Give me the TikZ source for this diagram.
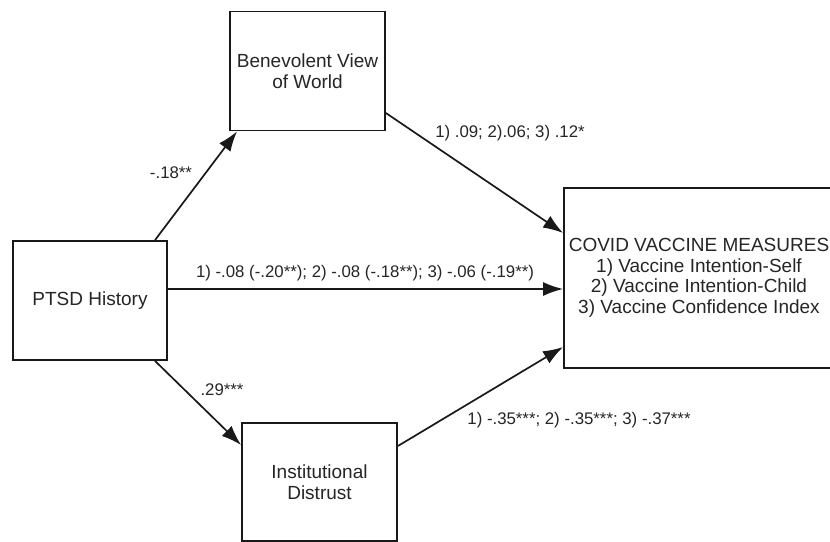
\documentclass[tikz,border=0pt]{standalone}
\usepackage{fontspec}
\setmainfont{Liberation Sans}
\usetikzlibrary{arrows.meta,calc}
\begin{document}
\begin{tikzpicture}[x=1pt,y=-1pt,
  box/.style={draw=black!90, line width=1.8pt, align=center, inner sep=0pt,
    font=\fontsize{19}{20.5}\selectfont, text=black!85},
  conn/.style={line width=1.7pt, draw=black!90, -{Latex[length=20pt,width=14pt]}},
  lab/.style={font=\fontsize{16.8}{19}\selectfont, text=black!85, inner sep=0pt}]
\clip (0,0) rectangle (830,541);
\fill[white] (0,0) rectangle (830,541);
\node[box, minimum width=154pt, minimum height=119pt] (ptsd) at (90,300.5) {PTSD History};
\node[box, minimum width=155pt, minimum height=119pt] (benev) at (307.5,71) {Benevolent View\\of World};
\node[box, minimum width=155pt, minimum height=118pt] (inst) at (319.5,482) {Institutional\\Distrust};
\node[box, minimum width=270pt, minimum height=180pt] (covid) at (699,278) {COVID VACCINE MEASURES\\1) Vaccine Intention-Self\\2) Vaccine Intention-Child\\3) Vaccine Confidence Index};
\coordinate (m) at ([yshift=11.5pt]ptsd.east);
\draw[conn] ([xshift=65pt]ptsd.north) -- ([xshift=-70.5pt]benev.south);
\draw[conn] ([yshift=-42pt]benev.east) -- ([yshift=45pt]covid.west);
\draw[conn] (m) -- (m -| covid.west);
\draw[conn] ([xshift=65pt]ptsd.south) -- ([yshift=37pt]inst.west);
\draw[conn] ([yshift=36pt]inst.east) -- ([yshift=-69pt]covid.west);
\node[lab] (l1) at (171,173) {-.18**};
\node[lab] (l2) at (510,133) {1) .09; 2).06; 3) .12*};
\node[lab] (l3) at (365,273) {1) -.08 (-.20**); 2) -.08 (-.18**); 3) -.06 (-.19**)};
\node[lab] (l4) at (222,390) {.29***};
\node[lab] (l5) at (579,420) {1) -.35***; 2) -.35***; 3) -.37***};
\end{tikzpicture}
\end{document}
